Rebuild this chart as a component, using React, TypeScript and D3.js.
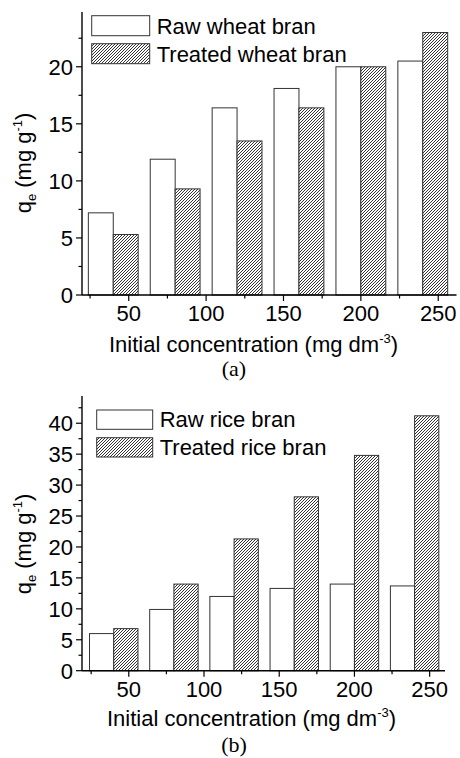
import React from "react";
import * as d3 from "d3";

const concentrations = [40, 80, 120, 160, 200, 240];
const rawWheat = [7.2, 11.9, 16.4, 18.1, 20.0, 20.5];
const treatedWheat = [5.3, 9.3, 13.5, 16.4, 20.0, 23.0];
const rawRice = [6.0, 9.9, 12.0, 13.3, 14.0, 13.7];
const treatedRice = [6.8, 14.0, 21.3, 28.1, 34.8, 41.2];
const xMajorTicks = [50, 100, 150, 200, 250];
const xMinorTicks = [25, 75, 125, 175, 225];
const yMajorA = [0, 5, 10, 15, 20];
const yMajorB = [0, 5, 10, 15, 20, 25, 30, 35, 40];
const legendA = ["Raw wheat bran", "Treated wheat bran"];
const legendB = ["Raw rice bran", "Treated rice bran"];

const FONT = "Arial, Liberation Sans, sans-serif";
const FS = 22;
const BAR_W = 16.1;

type PanelProps = {
  raw: number[];
  treated: number[];
  yMajor: number[];
  yMax: number;
  xDomain: [number, number];
  xRange: [number, number];
  yRange: [number, number];
  legend: string[];
  legendBox: { x: number; y1: number; y2: number; w: number; h: number };
  yLabelY: number;
  xTitleX: number;
  xTitleY: number;
  caption: string;
  captionY: number;
};

function Panel(p: PanelProps) {
  const x = d3.scaleLinear().domain(p.xDomain).range(p.xRange);
  const y = d3.scaleLinear().domain([0, p.yMax]).range(p.yRange);
  const y0 = y(0);
  const yMinor = d3.range(2.5, p.yMax, 5);
  const axisX = p.xRange[0];
  return (
    <g>
      {concentrations.map((c, i) => (
        <g key={i}>
          <rect x={x(c - BAR_W)} y={y(p.raw[i])} width={x(c) - x(c - BAR_W)} height={y0 - y(p.raw[i])}
            fill="#fff" stroke="#333" strokeWidth={1} />
          <rect x={x(c)} y={y(p.treated[i])} width={x(c + BAR_W) - x(c)} height={y0 - y(p.treated[i])}
            fill="url(#hatch)" stroke="#333" strokeWidth={1} />
        </g>
      ))}
      <line x1={axisX} x2={axisX} y1={p.yRange[1]} y2={y0} stroke="#000" strokeWidth={1.4} />
      <line x1={axisX} x2={p.xRange[1]} y1={y0} y2={y0} stroke="#000" strokeWidth={1.4} />
      {p.yMajor.map((t) => (
        <g key={"ym" + t}>
          <line x1={axisX - 6} x2={axisX} y1={y(t)} y2={y(t)} stroke="#000" strokeWidth={1.2} />
          <text x={axisX - 9} y={y(t)} dy="0.36em" textAnchor="end" fontSize={FS} fontFamily={FONT}>{t}</text>
        </g>
      ))}
      {yMinor.map((t) => (
        <line key={"yn" + t} x1={axisX - 3.5} x2={axisX} y1={y(t)} y2={y(t)} stroke="#000" strokeWidth={1.2} />
      ))}
      {xMajorTicks.map((t) => (
        <g key={"xm" + t}>
          <line x1={x(t)} x2={x(t)} y1={y0} y2={y0 + 6} stroke="#000" strokeWidth={1.2} />
          <text x={x(t)} y={y0 + 26} textAnchor="middle" fontSize={FS} fontFamily={FONT}>{t}</text>
        </g>
      ))}
      {xMinorTicks.map((t) => (
        <line key={"xn" + t} x1={x(t)} x2={x(t)} y1={y0} y2={y0 + 3.5} stroke="#000" strokeWidth={1.2} />
      ))}
      <rect x={p.legendBox.x} y={p.legendBox.y1} width={p.legendBox.w} height={p.legendBox.h} fill="#fff" stroke="#333" strokeWidth={1} />
      <rect x={p.legendBox.x} y={p.legendBox.y2} width={p.legendBox.w} height={p.legendBox.h} fill="url(#hatch)" stroke="#333" strokeWidth={1} />
      <text x={p.legendBox.x + p.legendBox.w + 7} y={p.legendBox.y1 + p.legendBox.h - 2} fontSize={FS} fontFamily={FONT}>{p.legend[0]}</text>
      <text x={p.legendBox.x + p.legendBox.w + 7} y={p.legendBox.y2 + p.legendBox.h - 2} fontSize={FS} fontFamily={FONT}>{p.legend[1]}</text>
      <text transform={`translate(31,${p.yLabelY}) rotate(-90)`} textAnchor="middle" fontSize={FS} fontFamily={FONT}>
        q<tspan fontSize={13} dy={5}>e</tspan>
        <tspan dy={-5}> (mg g</tspan>
        <tspan fontSize={13} dy={-9}>-1</tspan>
        <tspan dy={9}>)</tspan>
      </text>
      <text x={p.xTitleX} y={p.xTitleY} textAnchor="middle" fontSize={FS} fontFamily={FONT}>
        Initial concentration (mg dm<tspan fontSize={13} dy={-9}>-3</tspan><tspan dy={9}>)</tspan>
      </text>
      <text x={234} y={p.captionY} textAnchor="middle" fontSize={22} fontFamily="Times New Roman, Liberation Serif, serif">{p.caption}</text>
    </g>
  );
}

export default function App() {
  return (
    <svg width={460} height={758} style={{ position: "absolute", left: 0, top: 0, background: "#fff" }}>
      <defs>
        <pattern id="hatch" patternUnits="userSpaceOnUse" width={3} height={3}>
          <rect width={3} height={3} fill="#fff" />
          <path d="M-1,1 L1,-1 M0,3 L3,0 M2,4 L4,2" stroke="#333" strokeWidth={1} />
        </pattern>
      </defs>
      <Panel raw={rawWheat} treated={treatedWheat} yMajor={yMajorA} yMax={24.8}
        xDomain={[19.8, 261.8]} xRange={[82, 456.5]} yRange={[295, 12]}
        legend={legendA} legendBox={{ x: 91.7, y1: 15.7, y2: 43.7, w: 58, h: 20 }}
        yLabelY={163} xTitleX={253.5} xTitleY={351.5} caption="(a)" captionY={376} />
      <Panel raw={rawRice} treated={treatedRice} yMajor={yMajorB} yMax={44.4}
        xDomain={[18.9, 260.2]} xRange={[82, 445]} yRange={[670.7, 396]}
        legend={legendB} legendBox={{ x: 96.7, y1: 410, y2: 437.7, w: 56, h: 19.3 }}
        yLabelY={544} xTitleX={251.5} xTitleY={725.5} caption="(b)" captionY={752} />
    </svg>
  );
}
